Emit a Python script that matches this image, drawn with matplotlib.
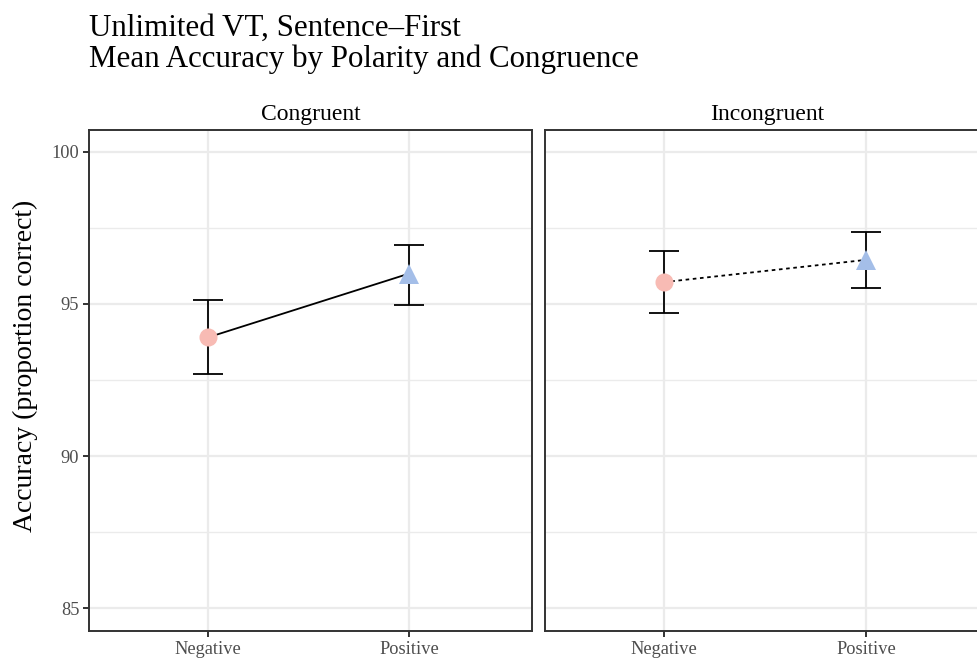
import matplotlib
matplotlib.use("Agg")
import matplotlib.pyplot as plt
from matplotlib.ticker import MultipleLocator

plt.rcParams['font.family'] = ['Liberation Serif', 'DejaVu Serif']

# data
panels = ["Congruent", "Incongruent"]
polarity = ["Negative", "Positive"]
means = {"Congruent": [93.9, 96.0], "Incongruent": [95.72, 96.45]}
lower = {"Congruent": [92.7, 94.97], "Incongruent": [94.7, 95.52]}
upper = {"Congruent": [95.13, 96.94], "Incongruent": [96.74, 97.38]}
line_styles = {"Congruent": "-", "Incongruent": (0, (2, 2))}
point_colors = ["#F8BBB4", "#A4BEE8"]
point_markers = ["o", "^"]
point_sizes = [13, 15]

W, H = 977, 660
fig = plt.figure(figsize=(W / 100, H / 100), dpi=100)

# panel boxes in pixels: (left, right, top, bottom)
boxes = [(89, 532, 130, 631), (545, 989, 130, 631)]

grey20 = "#333333"
for i, (name, (l, r, t, b)) in enumerate(zip(panels, boxes)):
    ax = fig.add_axes([l / W, 1 - b / H, (r - l) / W, (b - t) / H])
    x = list(range(len(polarity)))
    m = means[name]
    lo = [m[k] - lower[name][k] for k in x]
    hi = [upper[name][k] - m[k] for k in x]
    ax.errorbar(x, m, yerr=[lo, hi], fmt="none", ecolor="black",
                elinewidth=1.3, capsize=11, capthick=1.3, zorder=2)
    ax.plot(x, m, color="black", lw=1.3, linestyle=line_styles[name], zorder=3)
    for k in x:
        ax.plot(x[k], m[k], marker=point_markers[k], color=point_colors[k],
                markersize=point_sizes[k], markeredgewidth=0, linestyle="none", zorder=4)

    ax.set_xlim(-0.59, 1.61)
    ax.set_ylim(84.25, 100.72)
    ax.set_xticks(x)
    ax.set_xticklabels(polarity)
    ax.yaxis.set_major_locator(MultipleLocator(5))
    ax.yaxis.set_minor_locator(MultipleLocator(2.5))
    ax.grid(which="major", color="#EBEBEB", lw=1.6, zorder=0)
    ax.grid(which="minor", axis="y", color="#EBEBEB", lw=1.0, zorder=0)
    ax.set_axisbelow(True)
    ax.tick_params(axis="y", which="minor", length=0)
    ax.tick_params(which="major", length=4, width=1.4, color=grey20,
                   labelsize=13.2, labelcolor="#4D4D4D", pad=3)
    for s in ax.spines.values():
        s.set_color(grey20)
        s.set_linewidth(1.4)
    if i == 1:
        ax.tick_params(axis="y", left=False, labelleft=False)
    ax.set_title(name, fontsize=17, pad=7)

# y title is centred on panels + strips, like ggplot does
fig.text(25 / W, 1 - 366 / H, "Accuracy (proportion correct)", fontsize=20,
         rotation=90, ha="center", va="center")

fig.text(89 / W, 1 - 14 / H, "Unlimited VT, Sentence\u2013First\nMean Accuracy by Polarity and Congruence",
         fontsize=22.3, ha="left", va="top", linespacing=1.08)

fig.savefig("out.png", dpi=100)
